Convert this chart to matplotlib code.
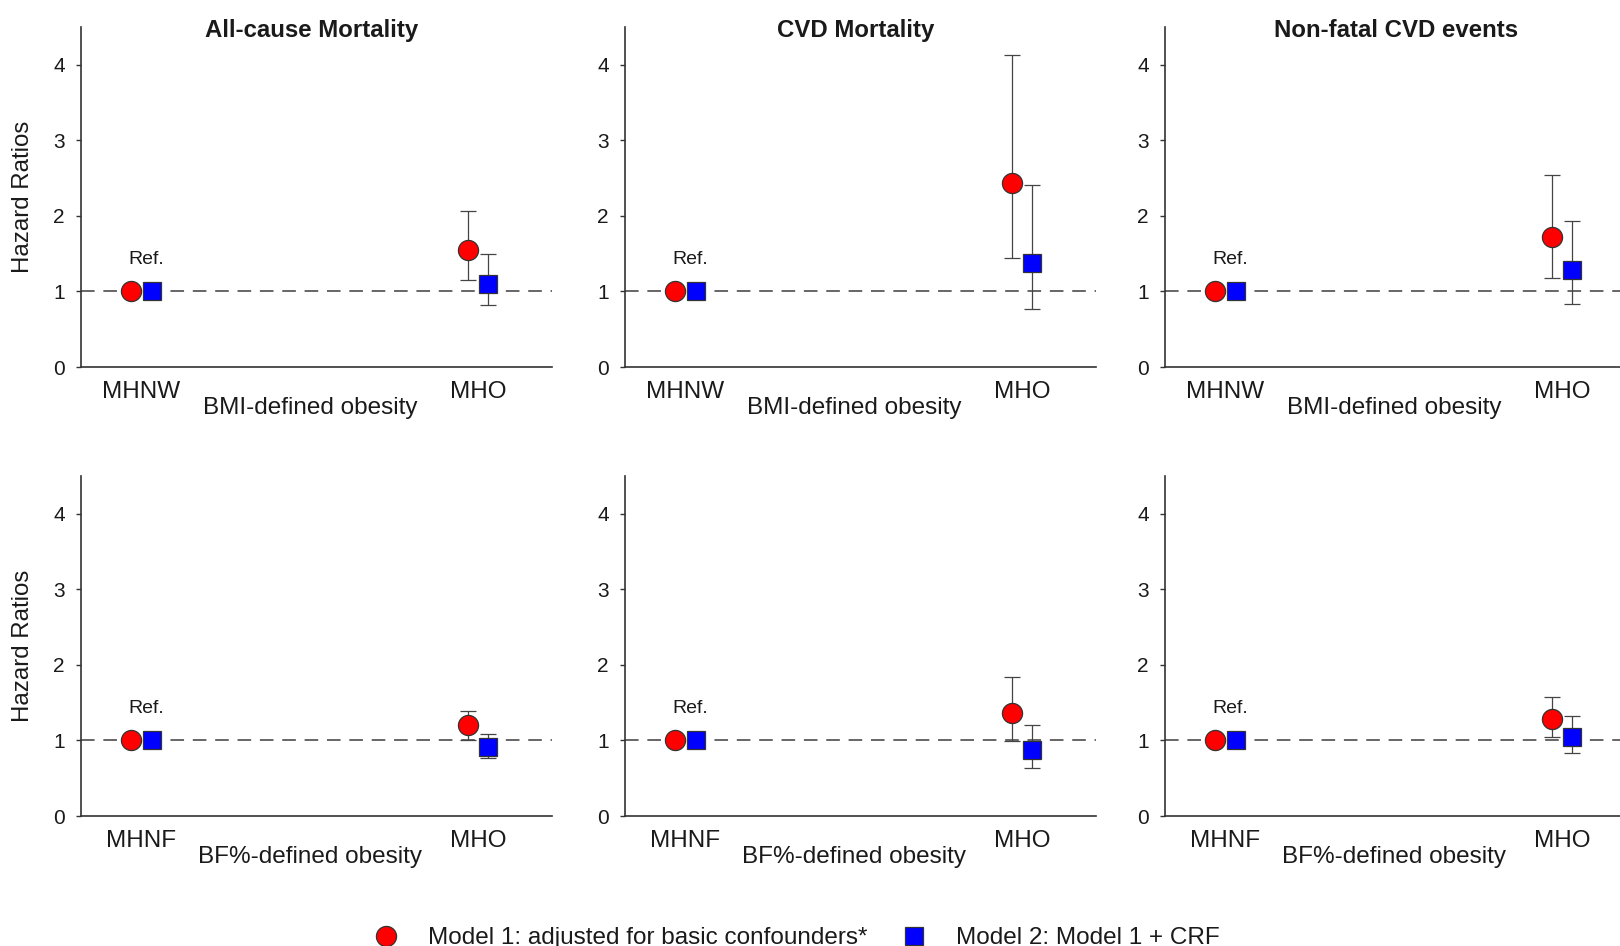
"""Hazard ratios for MHO vs. metabolically healthy reference groups,
by outcome (columns) and obesity definition (rows)."""

import matplotlib

matplotlib.use("Agg")
import matplotlib.pyplot as plt
from matplotlib.lines import Line2D

plt.rcParams["font.family"] = ["Liberation Sans", "DejaVu Sans"]

OUTCOMES = ["All-cause Mortality", "CVD Mortality", "Non-fatal CVD events"]
DEFINITIONS = ["BMI-defined obesity", "BF%-defined obesity"]
REF_GROUPS = ["MHNW", "MHNF"]
EXPOSED = "MHO"
REF_HR = 1.0

# MHO hazard ratios and 95% CI, rows = definition, cols = outcome
M1_HR = [[1.55, 2.44, 1.72], [1.20, 1.36, 1.28]]
M1_LO = [[1.15, 1.44, 1.18], [1.00, 0.99, 1.04]]
M1_HI = [[2.07, 4.13, 2.54], [1.39, 1.84, 1.58]]
M2_HR = [[1.10, 1.37, 1.28], [0.91, 0.87, 1.05]]
M2_LO = [[0.82, 0.77, 0.84], [0.77, 0.64, 0.83]]
M2_HI = [[1.50, 2.41, 1.93], [1.08, 1.21, 1.32]]

LABEL_M1 = "Model 1: adjusted for basic confounders*"
LABEL_M2 = "Model 2: Model 1 + CRF"

ROJO = "#ff0000"
AZUL = "#0000ff"
BORDE = "#333333"
TEXTO = "#1a1a1a"

X_POS = [1.0, 2.0]
DX = 0.031
MS_CIRC = 14.5
MS_CUAD = 12.8

W, H = 1620, 946
fig = plt.figure(figsize=(W / 100, H / 100), dpi=100)

izq = [81, 625, 1165]
abajo = [367, 816]
ancho, alto = 471, 340

for fila in range(2):
    for col in range(3):
        ax = fig.add_axes([izq[col] / W, 1 - abajo[fila] / H, ancho / W, alto / H])

        # referencia (HR = 1) sin intervalo
        ax.plot(X_POS[0] - DX, REF_HR, "o", ms=MS_CIRC, color=ROJO, mec=BORDE, mew=0.9, zorder=4)
        ax.plot(X_POS[0] + DX, REF_HR, "s", ms=MS_CUAD, color=AZUL, mec=BORDE, mew=0.9, zorder=4)

        y1 = M1_HR[fila][col]
        y2 = M2_HR[fila][col]
        ax.errorbar(X_POS[1] - DX, y1,
                    yerr=[[y1 - M1_LO[fila][col]], [M1_HI[fila][col] - y1]],
                    fmt="o", ms=MS_CIRC, color=ROJO, mec=BORDE, mew=0.9,
                    ecolor="#444444", elinewidth=0.9, capsize=6, capthick=0.9, zorder=4)
        ax.errorbar(X_POS[1] + DX, y2,
                    yerr=[[y2 - M2_LO[fila][col]], [M2_HI[fila][col] - y2]],
                    fmt="s", ms=MS_CUAD, color=AZUL, mec=BORDE, mew=0.9,
                    ecolor="#444444", elinewidth=0.9, capsize=6, capthick=0.9, zorder=4)

        ax.axhline(REF_HR, color="#666666", lw=1.4, ls=(0, (7, 4.5)), zorder=1)

        ax.text(X_POS[0] + 0.013, 1.42, "Ref.", fontsize=14, color=TEXTO,
                ha="center", va="center")

        ax.set_xlim(0.82, 2.22)
        ax.set_ylim(0, 4.5)
        ax.set_yticks([0, 1, 2, 3, 4])
        ax.set_xticks(X_POS)
        ax.set_xticklabels([REF_GROUPS[fila], EXPOSED])
        ax.tick_params(axis="x", length=0, pad=10, labelsize=17.5, labelcolor=TEXTO)
        ax.tick_params(axis="y", length=3.6, width=1, pad=8, labelsize=15,
                       labelcolor=TEXTO, color=BORDE)

        for lado in ("top", "right"):
            ax.spines[lado].set_visible(False)
        for lado in ("left", "bottom"):
            ax.spines[lado].set_color(BORDE)
            ax.spines[lado].set_linewidth(1.2)

        ax.text(0.487, -40.5 / alto, DEFINITIONS[fila], transform=ax.transAxes,
                fontsize=17.5, color=TEXTO, ha="center", va="center")

        if fila == 0:
            ax.text(0.49, 1.0 - 3.5 / alto, OUTCOMES[col], transform=ax.transAxes,
                    fontsize=17.3, fontweight="bold", color=TEXTO,
                    ha="center", va="center")
        if col == 0:
            ax.text(-58 / ancho, 0.5, "Hazard Ratios", transform=ax.transAxes,
                    fontsize=17.3, color=TEXTO, rotation=90,
                    ha="center", va="center")

handles = [
    Line2D([], [], ls="none", marker="o", ms=MS_CIRC, color=ROJO, mec=BORDE, mew=0.9),
    Line2D([], [], ls="none", marker="s", ms=MS_CUAD, color=AZUL, mec=BORDE, mew=0.9),
]
fig.legend(handles, [LABEL_M1, LABEL_M2], loc="center", ncol=2,
           bbox_to_anchor=(0.492, 1 - 938 / H), frameon=False,
           fontsize=17.5, handlelength=1.0, handletextpad=1.23,
           columnspacing=1.4, borderpad=0, labelcolor=TEXTO)

fig.savefig("out.png", dpi=100)
